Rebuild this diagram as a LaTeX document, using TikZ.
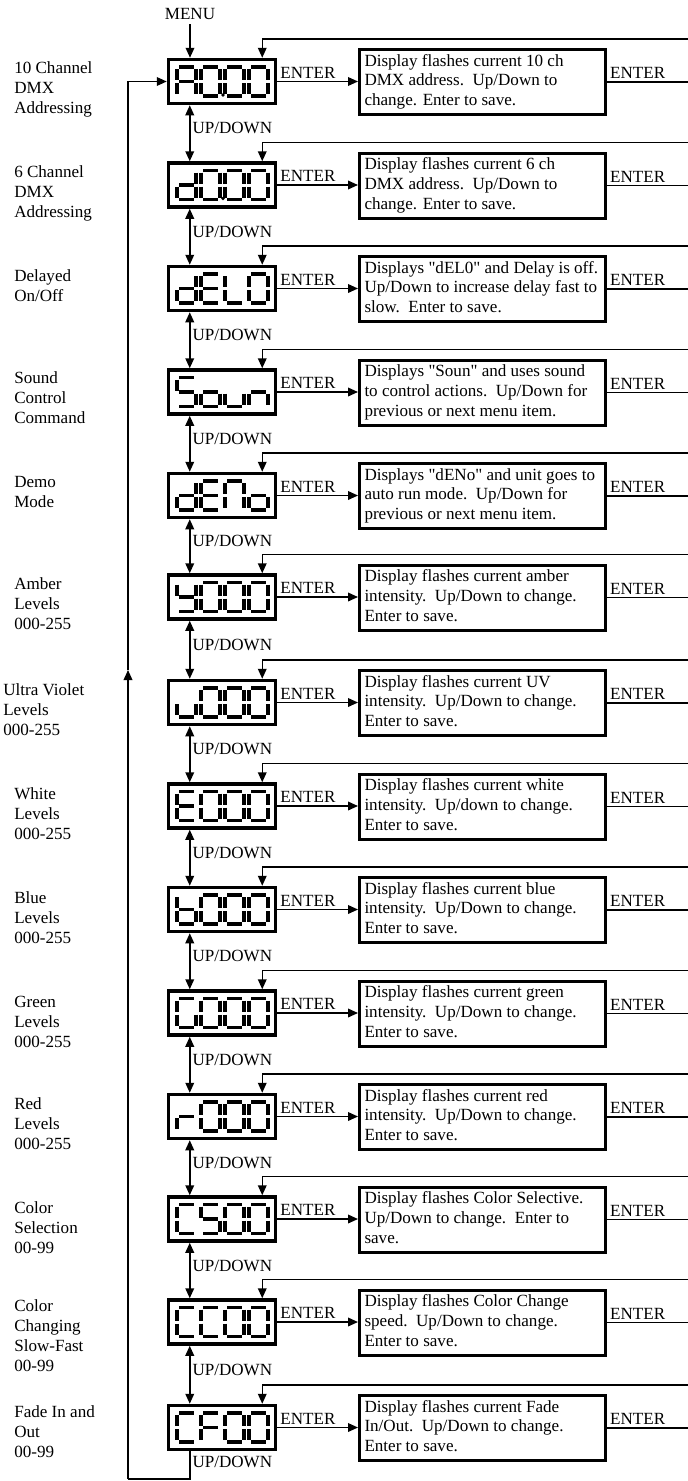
\documentclass[tikz,border=0pt]{standalone}
\usepackage{fontspec}
\setmainfont{Liberation Serif}
\usetikzlibrary{calc,arrows.meta}
\newcommand\ml[1]{\begin{tabular}[t]{@{}l@{}}#1\end{tabular}}
\newcommand\dl[1]{\makebox[177pt][l]{\raisebox{-1.2pt}{\begin{tabular}{@{}l@{}}#1\end{tabular}}}}
% seven-segment pieces: #1 = left x, #2 = centre y of the digit
\newcommand\sega[2]{\draw[segline] ({#1+2},{#2-14.5}) -- ({#1+17},{#2-14.5});}
\newcommand\segb[2]{\draw[segline] ({#1+19},{#2-12.5}) -- ({#1+19},{#2-1.5});}
\newcommand\segc[2]{\draw[segline] ({#1+19},{#2+1.5}) -- ({#1+19},{#2+12.5});}
\newcommand\segd[2]{\draw[segline] ({#1+2},{#2+14.5}) -- ({#1+17},{#2+14.5});}
\newcommand\sege[2]{\draw[segline] ({#1},{#2+1.5}) -- ({#1},{#2+12.5});}
\newcommand\segf[2]{\draw[segline] ({#1},{#2-12.5}) -- ({#1},{#2-1.5});}
\newcommand\segg[2]{\draw[segline] ({#1+2},{#2}) -- ({#1+17},{#2});}
\newcommand\lcdchar[3]{\foreach \s in #3 {\csname seg\s\endcsname{#1}{#2}}}
\newcommand\lcd[5]{\lcdchar{177}{#1}{#2}\lcdchar{201}{#1}{#3}\lcdchar{225}{#1}{#4}\lcdchar{249}{#1}{#5}}
\def\sgA{a,b,c,e,f,g}
\def\sgZ{a,b,c,d,e,f}
\def\sgd{b,c,d,e,g}
\def\sgE{a,d,e,f,g}
\def\sgL{d,e,f}
\def\sgS{a,c,d,f,g}
\def\sgo{c,d,e,g}
\def\sgu{c,d,e}
\def\sgn{c,e,g}
\def\sgN{a,b,c,e,f}
\def\sgY{b,c,d,f,g}
\def\sgb{c,d,e,f,g}
\def\sgG{a,c,d,e,f}
\def\sgr{e,g}
\def\sgC{a,d,e,f}
\def\sgF{a,e,f,g}
\def\q{\textquotedbl}
% one menu row: #1 name, #2 centre y, #3 lcd chars, #4 label base position, #5 label, #6 description
\newcommand\menurow[6]{%
  \node[disp] (d#1) at (222,#2) {};
  \lcd{#2}#3
  \node[lab] (l#1) at (#4) {\ml{#5}};
  \node[descbox] (t#1) at (482.5,{#2+0.5}) {\dl{#6}};
  \coordinate (f#1) at (688,{#2-42.5});
  \coordinate (o#1) at (688,{#2+0.5});
  \draw[arr] (d#1.east) -- (d#1.east -| t#1.west) node[elab, pos=0] {ENTER};
  \draw[conn] (t#1.east) -- (o#1) node[elab, pos=0] {ENTER};
  \draw[arr] (f#1) -| ($(d#1.north east)+(-15,0)$);
}
\tikzset{
  every node/.style={font=\fontsize{12.8pt}{15pt}\selectfont, text=black},
  disp/.style={draw, line width=2.625pt, minimum width=80.25pt, minimum height=33pt, inner sep=0pt},
  descbox/.style={draw, line width=2.25pt, inner xsep=3.75pt, inner ysep=0pt,
    minimum height=48.75pt, font=\fontsize{12.8pt}{14.8pt}\selectfont},
  conn/.style={line width=1.125pt},
  arr/.style={conn, -{Triangle[length=7.5pt,width=6.5pt]}},
  darr/.style={conn, {Triangle[length=7.5pt,width=6.5pt]}-{Triangle[length=7.5pt,width=6.5pt]}},
  segline/.style={line width=2.4pt},
  lab/.style={anchor=base west, inner sep=0pt},
  elab/.style={anchor=south west, inner sep=1.8pt},
  udlab/.style={anchor=west, inner sep=1.5pt},
}
\begin{document}
\begin{tikzpicture}[x=0.75pt, y=-0.75pt]
\useasboundingbox (0,0) rectangle (688,1481);

\menurow{1}{81.5}{{\sgA}{\sgZ}{\sgZ}{\sgZ}}{14,73.5}{10 Channel\\DMX\\Addressing}
  {Display flashes current 10 ch\\DMX address.\ \ Up/Down to\\change. Enter to save.}
\menurow{2}{185}{{\sgd}{\sgZ}{\sgZ}{\sgZ}}{14,177}{6 Channel\\DMX\\Addressing}
  {Display flashes current 6 ch\\DMX address.\ \ Up/Down to\\change. Enter to save.}
\menurow{3}{288.5}{{\sgd}{\sgE}{\sgL}{\sgZ}}{14,281}{Delayed\\On/Off}
  {Displays \q dEL0\q{} and Delay is off.\\Up/Down to increase delay fast to\\slow.\ \ Enter to save.}
\menurow{4}{392}{{\sgS}{\sgo}{\sgu}{\sgn}}{14,383.5}{Sound\\Control\\Command}
  {Displays \q Soun\q{} and uses sound\\to control actions.\ \ Up/Down for\\previous or next menu item.}
\menurow{5}{495.5}{{\sgd}{\sgE}{\sgN}{\sgo}}{14,487}{Demo\\Mode}
  {Displays \q dENo\q{} and unit goes to\\auto run mode.\ \ Up/Down for\\previous or next menu item.}
\menurow{6}{597}{{\sgY}{\sgZ}{\sgZ}{\sgZ}}{14,589}{Amber\\Levels\\000-255}
  {Display flashes current amber\\intensity.\ \ Up/Down to change.\\Enter to save.}
\menurow{7}{702.5}{{\sgu}{\sgZ}{\sgZ}{\sgZ}}{3,695}{Ultra Violet\\Levels\\000-255}
  {Display flashes current UV\\intensity.\ \ Up/Down to change.\\Enter to save.}
\menurow{8}{806}{{\sgE}{\sgZ}{\sgZ}{\sgZ}}{14,799}{White\\Levels\\000-255}
  {Display flashes current white\\intensity.\ \ Up/down to change.\\Enter to save.}
\menurow{9}{909.5}{{\sgb}{\sgZ}{\sgZ}{\sgZ}}{14,903}{Blue\\Levels\\000-255}
  {Display flashes current blue\\intensity.\ \ Up/Down to change.\\Enter to save.}
\menurow{10}{1013}{{\sgG}{\sgZ}{\sgZ}{\sgZ}}{14,1007}{Green\\Levels\\000-255}
  {Display flashes current green\\intensity.\ \ Up/Down to change.\\Enter to save.}
\menurow{11}{1116.5}{{\sgr}{\sgZ}{\sgZ}{\sgZ}}{14,1109}{Red\\Levels\\000-255}
  {Display flashes current red\\intensity.\ \ Up/Down to change.\\Enter to save.}
\menurow{12}{1219}{{\sgC}{\sgS}{\sgZ}{\sgZ}}{14,1213}{Color\\Selection\\00-99}
  {Display flashes Color Selective.\\Up/Down to change.\ \ Enter to\\save.}
\menurow{13}{1322}{{\sgC}{\sgC}{\sgZ}{\sgZ}}{14,1311}{Color\\Changing\\Slow-Fast\\00-99}
  {Display flashes Color Change\\speed.\ \ Up/Down to change.\\Enter to save.}
\menurow{14}{1427.5}{{\sgC}{\sgF}{\sgZ}{\sgZ}}{14,1417}{Fade In and\\Out\\00-99}
  {Display flashes current Fade\\In/Out.\ \ Up/Down to change.\\Enter to save.}

% decimal points
\fill ({201+22},{81.5+13.5}) circle[radius=1.4pt];
\fill ({201+22},{185+13.5}) circle[radius=1.4pt];

% menu entry
\node (menu) at (190,14) {MENU};
\draw[arr] (menu) -- (menu |- d1.north);

% up/down links
\foreach \k [evaluate=\k as \n using int(\k+1)] in {1,...,13}{
  \draw[darr] ($(d\k.south west)+(23,0)$) -- ($(d\n.north west)+(23,0)$)
    node[udlab, pos=0.41] {UP/DOWN};
}

% return loop
\coordinate (lb) at (128,1479);
\coordinate (lm) at (128,670);
\draw[conn] ($(d14.south west)+(23,0)$) |- (lb) node[udlab, pos=0.2] {UP/DOWN};
\draw[arr] (lb) -- (lm);
\draw[arr] (lm) |- (d1.west);
\end{tikzpicture}
\end{document}
